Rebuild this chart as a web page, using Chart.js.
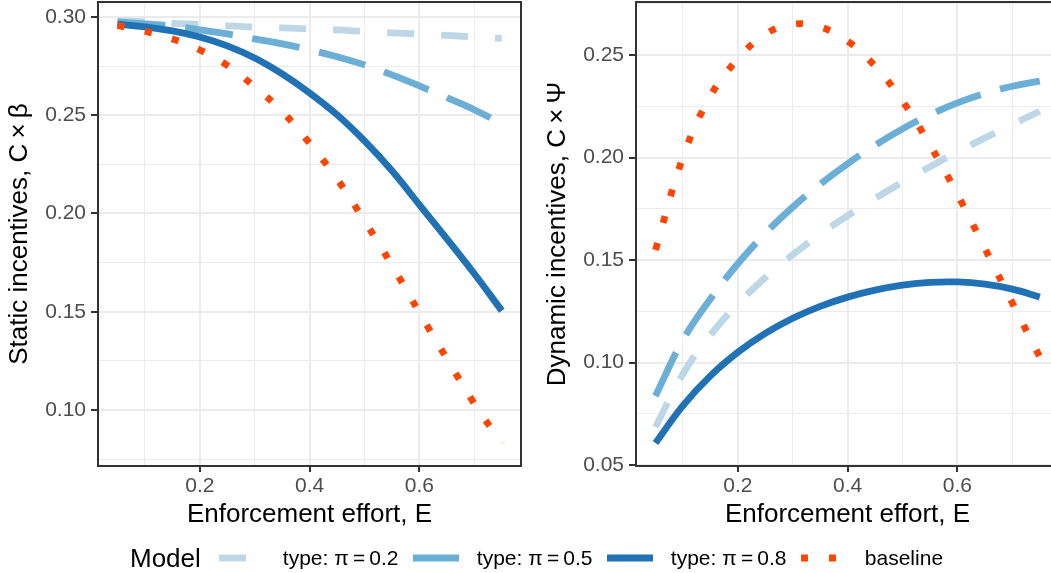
<!DOCTYPE html>
<html>
<head>
<meta charset="utf-8">
<title>Static and dynamic incentives</title>
<script src="https://cdn.jsdelivr.net/npm/chart.js@4.4.1/dist/chart.umd.min.js"></script>
<style>
  html, body { margin: 0; padding: 0; background: #fff; width: 1051px; height: 573px; overflow: hidden; }
  body { position: relative; font-family: 'Liberation Sans', Arial, sans-serif; }
  .panel { position: absolute; top: 0; width: 530px; height: 573px; }
  #leftPanel { left: 0; }
  #rightPanel { left: 540px; }
  #legend { position: absolute; left: 130px; top: 543px; height: 30px; display: flex; align-items: center; }
  #legend .title { font-size: 26px; color: #000; margin-right: 18px; }
  #legend .item { display: flex; align-items: center; margin-right: 18px; }
  #legend svg { display: block; margin-right: 18px; }
  #legend .label { font-size: 21px; color: #000; width: 112px; white-space: nowrap; }
  #legend .label.last { width: auto; }
</style>
</head>
<body>
<div class="panel" id="leftPanel"><canvas id="staticChart"></canvas></div>
<div class="panel" id="rightPanel"><canvas id="dynamicChart"></canvas></div>
<div id="legend"></div>

<script>
// Data
const effort = [0.05, 0.10, 0.15, 0.20, 0.25, 0.30, 0.35, 0.40, 0.45, 0.50, 0.55, 0.60, 0.65, 0.70, 0.75];

const staticPi02 = [0.2980, 0.2975, 0.2967, 0.2962, 0.2954, 0.2949, 0.2944, 0.2939, 0.2934, 0.2926, 0.2919, 0.2914, 0.2906, 0.2898, 0.2891];
const staticPi05 = [0.2975, 0.2964, 0.2954, 0.2934, 0.2914, 0.2888, 0.2863, 0.2832, 0.2797, 0.2756, 0.2705, 0.2649, 0.2589, 0.2528, 0.2456];
const staticPi08 = [0.2964, 0.2949, 0.2929, 0.2898, 0.2853, 0.2791, 0.2710, 0.2613, 0.2502, 0.2369, 0.2217, 0.2044, 0.1871, 0.1693, 0.1505];
const staticBase = [0.2957, 0.2927, 0.2888, 0.2832, 0.2753, 0.2644, 0.2519, 0.2357, 0.2176, 0.1962, 0.1736, 0.1495, 0.1261, 0.1032, 0.0830];

const dynamicPi02 = [0.0685, 0.0944, 0.1134, 0.1286, 0.1414, 0.1526, 0.1626, 0.1717, 0.1801, 0.1880, 0.1955, 0.2027, 0.2096, 0.2162, 0.2226];
const dynamicPi05 = [0.0837, 0.1110, 0.1310, 0.1482, 0.1630, 0.1758, 0.1870, 0.1970, 0.2060, 0.2140, 0.2209, 0.2267, 0.2313, 0.2348, 0.2373];
const dynamicPi08 = [0.0607, 0.0790, 0.0935, 0.1050, 0.1142, 0.1216, 0.1274, 0.1319, 0.1353, 0.1377, 0.1391, 0.1393, 0.1382, 0.1358, 0.1320];
const dynamicBase = [0.1549, 0.2002, 0.2300, 0.2481, 0.2602, 0.2651, 0.2637, 0.2568, 0.2446, 0.2276, 0.2061, 0.1820, 0.1557, 0.1290, 0.1027];

const seriesNames = ['type: π\u2009=\u20090.2', 'type: π\u2009=\u20090.5', 'type: π\u2009=\u20090.8', 'baseline'];
const legendTitle = 'Model';

// Tick positions (major ones get labels)
const xMajor = [0.2, 0.4, 0.6];
const xMinor = [0.1, 0.3, 0.5, 0.7];
const staticYMajor = [0.10, 0.15, 0.20, 0.25, 0.30];
const staticYMinor = [0.075, 0.125, 0.175, 0.225, 0.275];
const dynamicYMajor = [0.05, 0.10, 0.15, 0.20, 0.25];
const dynamicYMinor = [0.075, 0.125, 0.175, 0.225, 0.275];

const FONT = "'Liberation Sans', Arial, sans-serif";
Chart.defaults.font.family = FONT;

// line looks for the four models
const styles = [
  { color: '#BDD7E7', dash: [27, 27], order: 3 },
  { color: '#6BAED6', dash: [48, 20], order: 2 },
  { color: '#2171B5', dash: [], order: 1 },
  { color: '#FF4500', dash: [7, 21], order: 0 }
];
const LINE_W = 6.8;

function isIn(list, v) {
  return list.some(m => Math.abs(m - v) < 1e-9);
}

function toPoints(values) {
  return effort.map((e, i) => ({ x: e, y: values[i] }));
}

// panel border drawn on top, like theme_bw
const framePlugin = {
  id: 'frame',
  afterDatasetsDraw(chart) {
    const a = chart.chartArea;
    const ctx = chart.ctx;
    ctx.save();
    ctx.strokeStyle = '#333333';
    ctx.lineWidth = 2;
    ctx.strokeRect(a.left, a.top, a.right - a.left, a.bottom - a.top);
    ctx.restore();
  }
};

function makeChart(canvasId, seriesList, opts) {
  const datasets = seriesList.map((values, i) => ({
    label: seriesNames[i],
    data: toPoints(values),
    borderColor: styles[i].color,
    backgroundColor: styles[i].color,
    borderWidth: LINE_W,
    borderDash: styles[i].dash,
    borderCapStyle: 'butt',
    pointRadius: 0,
    tension: 0.4,
    fill: false,
    order: styles[i].order
  }));

  return new Chart(document.getElementById(canvasId), {
    type: 'line',
    data: { datasets: datasets },
    plugins: [framePlugin],
    options: {
      responsive: true,
      maintainAspectRatio: false,
      animation: false,
      devicePixelRatio: 1,
      layout: { padding: { top: 2, right: opts.padRight, left: 0, bottom: 0 } },
      plugins: { legend: { display: false }, tooltip: { enabled: false } },
      scales: {
        x: {
          type: 'linear',
          min: 0.0145,
          max: 0.785,
          afterBuildTicks(scale) {
            scale.ticks = xMajor.concat(xMinor).sort((a, b) => a - b).map(v => ({ value: v }));
          },
          afterFit(scale) {
            scale.height = 107;
            scale.paddingLeft = 0;
            scale.paddingRight = 0;
          },
          border: { display: false },
          grid: {
            color: '#EBEBEB',
            lineWidth: ctx => isIn(xMajor, ctx.tick.value) ? 2 : 1,
            tickColor: ctx => isIn(xMajor, ctx.tick.value) ? '#333333' : 'rgba(0,0,0,0)',
            tickWidth: 2,
            tickLength: 6
          },
          ticks: {
            autoSkip: false,
            maxRotation: 0,
            padding: 2,
            color: '#4D4D4D',
            font: { size: 21 },
            callback: v => isIn(xMajor, v) ? v.toFixed(1) : ''
          },
          title: {
            display: true,
            text: 'Enforcement effort, E',
            color: '#000',
            font: { size: 26 },
            padding: { top: 0, bottom: 43 }
          }
        },
        y: {
          type: 'linear',
          min: opts.yMin,
          max: opts.yMax,
          afterBuildTicks(scale) {
            scale.ticks = opts.yMajor.concat(opts.yMinor).sort((a, b) => a - b).map(v => ({ value: v }));
          },
          afterFit(scale) {
            scale.width = opts.yWidth;
            scale.paddingTop = 0;
            scale.paddingBottom = 0;
          },
          border: { display: false },
          grid: {
            color: '#EBEBEB',
            lineWidth: ctx => isIn(opts.yMajor, ctx.tick.value) ? 2 : 1,
            tickColor: ctx => isIn(opts.yMajor, ctx.tick.value) ? '#333333' : 'rgba(0,0,0,0)',
            tickWidth: 2,
            tickLength: 7
          },
          ticks: {
            autoSkip: false,
            padding: 5,
            color: '#4D4D4D',
            font: { size: 21 },
            callback: v => isIn(opts.yMajor, v) ? v.toFixed(2) : ''
          },
          title: {
            display: true,
            text: opts.yTitle,
            color: '#000',
            font: { size: 26 },
            padding: { top: opts.yTitlePad, bottom: 0 }
          }
        }
      }
    }
  });
}

makeChart('staticChart', [staticPi02, staticPi05, staticPi08, staticBase], {
  yMin: 0.0715, yMax: 0.3076,
  yMajor: staticYMajor, yMinor: staticYMinor,
  yTitle: 'Static incentives, C\u2009×\u2009β',
  yTitlePad: 4, yWidth: 98, padRight: 9
});

makeChart('dynamicChart', [dynamicPi02, dynamicPi05, dynamicPi08, dynamicBase], {
  yMin: 0.0495, yMax: 0.2759,
  yMajor: dynamicYMajor, yMinor: dynamicYMinor,
  yTitle: 'Dynamic incentives, C\u2009×\u2009Ψ',
  yTitlePad: 2, yWidth: 96, padRight: 11
});

// shared legend under both panels
const legend = document.getElementById('legend');
const legTitle = document.createElement('span');
legTitle.className = 'title';
legTitle.textContent = legendTitle;
legend.appendChild(legTitle);

seriesNames.forEach((name, i) => {
  const item = document.createElement('div');
  item.className = 'item';
  const dash = styles[i].dash.length ? styles[i].dash.join(' ') : 'none';
  item.innerHTML =
    '<svg width="46" height="12"><line x1="0" y1="6" x2="46" y2="6" stroke="' + styles[i].color +
    '" stroke-width="' + LINE_W + '" stroke-dasharray="' + dash + '"/></svg>';
  const label = document.createElement('span');
  label.className = 'label' + (i === seriesNames.length - 1 ? ' last' : '');
  label.textContent = name;
  item.appendChild(label);
  legend.appendChild(item);
});
</script>
</body>
</html>
